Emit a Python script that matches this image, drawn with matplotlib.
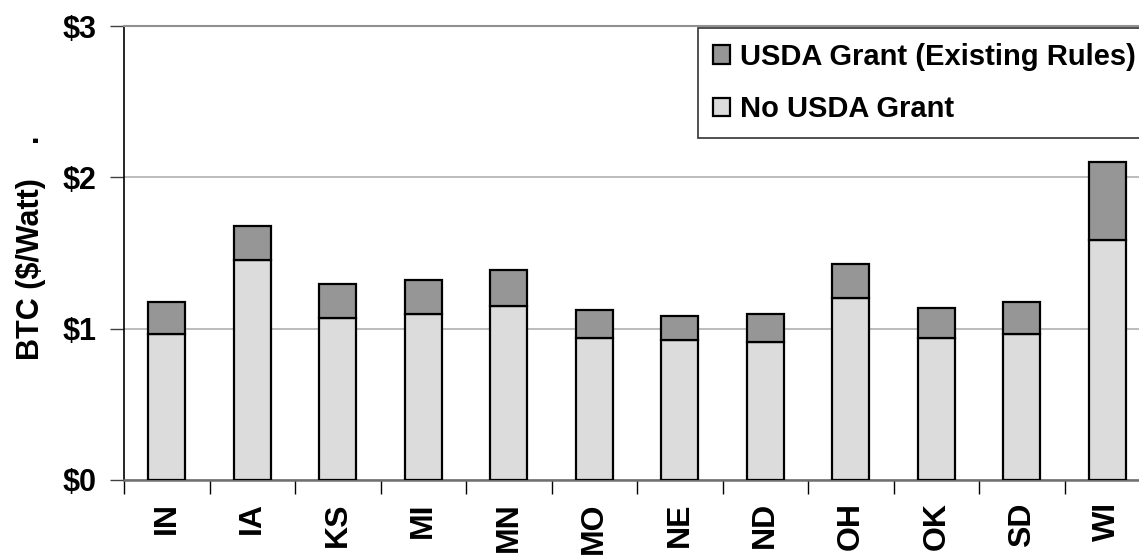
import matplotlib
matplotlib.use("Agg")
import matplotlib.pyplot as plt
import numpy as np
from matplotlib.ticker import FixedLocator, FuncFormatter

plt.rcParams['font.family'] = ['Liberation Sans', 'DejaVu Sans']
plt.rcParams['font.weight'] = 'bold'

states = ["IN", "IA", "KS", "MI", "MN", "MO", "NE", "ND", "OH", "OK", "SD", "WI"]
no_grant = [0.965, 1.454, 1.069, 1.095, 1.150, 0.936, 0.923, 0.914, 1.203, 0.939, 0.965, 1.584]
with_grant = [1.176, 1.680, 1.297, 1.322, 1.388, 1.124, 1.084, 1.100, 1.426, 1.137, 1.176, 2.100]
y_ticks = [0, 1, 2, 3]

grant_part = [t - b for t, b in zip(with_grant, no_grant)]

fig = plt.figure(figsize=(11.39, 5.56), dpi=100)
ax = fig.add_axes([0.1089, 0.1367, 0.9008, 0.8165])

x = np.arange(len(states))
w = 0.43
b1 = ax.bar(x, no_grant, w, color="#dcdcdc", edgecolor="black", linewidth=1.6,
            label="No USDA Grant", zorder=3)
b2 = ax.bar(x, grant_part, w, bottom=no_grant, color="#969696", edgecolor="black",
            linewidth=1.6, label="USDA Grant (Existing Rules)", zorder=3)

ax.set_xlim(-0.5, len(states) - 0.5)
ax.set_ylim(0, 3)

# y axis
ax.yaxis.set_major_locator(FixedLocator(y_ticks))
ax.yaxis.set_major_formatter(FuncFormatter(lambda v, p: f"${v:.0f}"))
ax.tick_params(axis='y', direction='out', length=10, width=1, color='#404040',
               labelsize=22, pad=10)
for lab in ax.get_yticklabels():
    lab.set_fontweight('bold')
ax.yaxis.grid(True, color='#b0b0b0', linewidth=1.2, zorder=0)

# x axis: labels at centers, ticks at category boundaries
ax.set_xticks(x)
ax.set_xticklabels(states, rotation=90, fontsize=23, fontweight='bold')
ax.tick_params(axis='x', which='major', length=0, pad=16)
ax.set_xticks(np.arange(-0.5, len(states) + 0.5, 1), minor=True)
ax.tick_params(axis='x', which='minor', direction='out', length=10, width=1, color='black')

ax.spines['right'].set_visible(False)
ax.spines['top'].set_color('#909090')
ax.spines['top'].set_linewidth(1.5)
ax.spines['bottom'].set_color('#707070')
ax.spines['bottom'].set_linewidth(1.8)
ax.spines['left'].set_color('black')
ax.spines['left'].set_linewidth(1.2)

ax.set_ylabel("BTC ($/Watt)    .", fontsize=22, fontweight='bold', labelpad=12)
ax.yaxis.label.set_y(0.512)

leg = fig.legend(handles=[b2, b1], loc='upper left',
                 bbox_to_anchor=(698 / 1139, 1 - 28 / 556),
                 fontsize=21, frameon=True, fancybox=False, borderpad=0.5,
                 labelspacing=0.85, handlelength=0.6, handleheight=0.6,
                 handletextpad=0.35, borderaxespad=0)
leg.get_frame().set_edgecolor('black')
leg.get_frame().set_linewidth(1.2)
for t in leg.get_texts():
    t.set_fontweight('bold')

fig.savefig("out.png", dpi=100)
